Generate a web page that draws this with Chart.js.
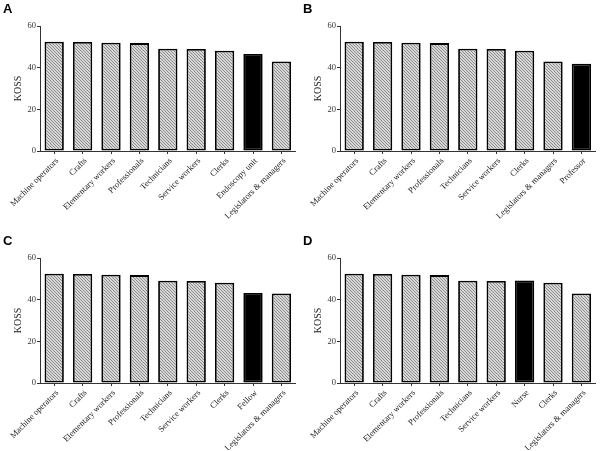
<!DOCTYPE html>
<html>
<head>
<meta charset="utf-8">
<script src="https://cdn.jsdelivr.net/npm/chart.js@4.4.1/dist/chart.umd.min.js"></script>
<style>
  body { margin: 0; background: #fff; }
  #wrap { position: relative; width: 601px; height: 451px; }
  .panel { position: absolute; }
  .tag { position: absolute; font: bold 13px "Liberation Sans", Arial, sans-serif; color: #000; line-height: 13px; }
</style>
</head>
<body>
<div id="wrap">
  <canvas id="chartA" class="panel" width="300" height="225" style="left:0;top:0"></canvas>
  <canvas id="chartB" class="panel" width="300" height="225" style="left:300px;top:0"></canvas>
  <canvas id="chartC" class="panel" width="300" height="225" style="left:0;top:225px"></canvas>
  <canvas id="chartD" class="panel" width="300" height="225" style="left:300px;top:225px"></canvas>
  <div class="tag" style="left:3px;top:2px">A</div>
  <div class="tag" style="left:303px;top:2px">B</div>
  <div class="tag" style="left:3px;top:234px">C</div>
  <div class="tag" style="left:303px;top:234px">D</div>
</div>
<script>
// data
const labelsA = ['Machine operators', 'Crafts', 'Elementary workers', 'Professionals', 'Technicians', 'Service workers', 'Clerks', 'Endoscopy unit', 'Legislators & managers'];
const valuesA = [52.5, 52.3, 52.0, 51.8, 49.1, 49.0, 48.1, 46.6, 43.0];

const labelsB = ['Machine operators', 'Crafts', 'Elementary workers', 'Professionals', 'Technicians', 'Service workers', 'Clerks', 'Legislators & managers', 'Professor'];
const valuesB = [52.5, 52.3, 52.0, 51.8, 49.1, 49.0, 48.1, 43.0, 41.9];

const labelsC = ['Machine operators', 'Crafts', 'Elementary workers', 'Professionals', 'Technicians', 'Service workers', 'Clerks', 'Fellow', 'Legislators & managers'];
const valuesC = [52.5, 52.3, 52.0, 51.8, 49.1, 49.0, 48.1, 43.2, 43.0];

const labelsD = ['Machine operators', 'Crafts', 'Elementary workers', 'Professionals', 'Technicians', 'Service workers', 'Nurse', 'Clerks', 'Legislators & managers'];
const valuesD = [52.5, 52.3, 52.0, 51.8, 49.1, 49.0, 49.2, 48.1, 43.0];

const highlight = { A: 'Endoscopy unit', B: 'Professor', C: 'Fellow', D: 'Nurse' };
const yTicks = [0, 20, 40, 60];

const serif = '"Liberation Serif", "Times New Roman", serif';

function makeHatch() {
    const c = document.createElement('canvas');
    c.width = 3; c.height = 3;
    const g = c.getContext('2d');
    g.fillStyle = '#d6d6d6';
    g.fillRect(0, 0, 3, 3);
    g.fillStyle = '#8e8e8e';
    for (let i = 0; i < 3; i++) g.fillRect(i, i, 1, 1);
    return g.createPattern(c, 'repeat');
}

function createPanel(canvasId, labels, values, special, top, bottom) {
    const ctx = document.getElementById(canvasId);
    const hatch = makeHatch();
    const fills = labels.map(l => l === special ? '#000' : hatch);
    return new Chart(ctx, {
        type: 'bar',
        data: {
            labels,
            datasets: [{
                data: values,
                backgroundColor: fills,
                borderColor: '#000',
                borderWidth: 1.8,
                borderSkipped: false,
                categoryPercentage: 1,
                barPercentage: 0.68
            }]
        },
        options: {
            responsive: false,
            animation: false,
            layout: { padding: { top, right: 4.4, bottom: 0, left: 0 } },
            plugins: { legend: { display: false }, tooltip: { enabled: false } },
            scales: {
                x: {
                    grid: { offset: false, drawOnChartArea: false, tickLength: 3, color: '#333' },
                    border: { display: true, color: '#333', width: 1 },
                    ticks: {
                        autoSkip: false, minRotation: 45, maxRotation: 45, padding: 2, labelOffset: 3,
                        color: '#222', font: { family: serif, size: 8.6 }
                    },
                    afterFit: s => { s.height = 225 - bottom; s.paddingLeft = 0; s.paddingRight = 0; }
                },
                y: {
                    min: 0, max: 60,
                    afterBuildTicks: s => { s.ticks = yTicks.map(v => ({ value: v })); },
                    grid: { drawOnChartArea: false, tickLength: 3, color: '#333' },
                    border: { display: true, color: '#333', width: 1 },
                    ticks: { padding: 1, color: '#333', font: { family: serif, size: 8.5 } },
                    title: { display: true, text: 'KOSS', color: '#222', font: { family: serif, size: 10 }, padding: { top: 12, bottom: 0 } },
                    afterFit: s => { s.width = 40; s.paddingTop = 0; s.paddingBottom = 0; }
                }
            }
        }
    });
}

createPanel('chartA', labelsA, valuesA, highlight.A, 26, 151);
createPanel('chartB', labelsB, valuesB, highlight.B, 26, 151);
createPanel('chartC', labelsC, valuesC, highlight.C, 33, 158);
createPanel('chartD', labelsD, valuesD, highlight.D, 33, 158);
</script>
</body>
</html>
